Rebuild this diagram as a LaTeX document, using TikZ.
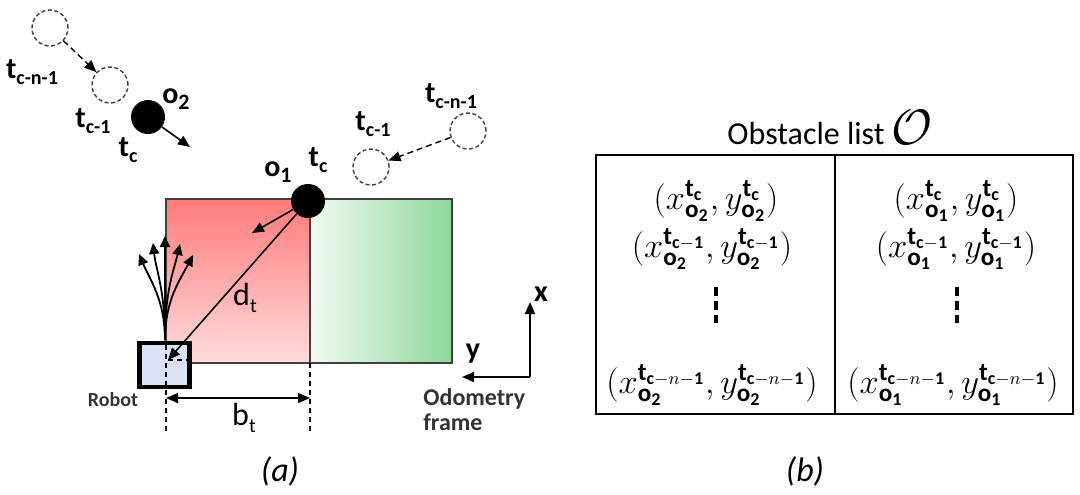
\documentclass[tikz,border=0pt]{standalone}
\usepackage{fontspec}
\setmainfont{Carlito}
\usetikzlibrary{arrows.meta}
\definecolor{redtop}{HTML}{FF7B7B}
\definecolor{redbot}{HTML}{FFDCDC}
\definecolor{grnl}{HTML}{F2FAF3}
\definecolor{grnr}{HTML}{8ED89A}
\definecolor{robfill}{HTML}{DAE3F3}
\definecolor{txtgray}{HTML}{333333}
\newcommand\tlab[1]{\textbf{t}\raisebox{-0.4ex}{\fontsize{10}{10}\selectfont\bfseries #1}}
\newcommand\olab[1]{\textbf{o}\raisebox{-0.45ex}{\fontsize{11}{11}\selectfont\bfseries #1}}
\newcommand\ent[2]{$(x^{#2}_{#1},y^{#2}_{#1})$}
\begin{document}
\begin{tikzpicture}[x=0.5pt,y=-0.5pt,
  tri/.style={-{Triangle[length=6pt,width=5pt]}},
  smalltri/.style={-{Triangle[length=5.5pt,width=5pt]}},
  ghost/.style={circle,draw=black!75,dashed,dash pattern=on 2pt off 1.3pt,line width=0.7pt,minimum size=18pt,inner sep=0pt},
  obst/.style={circle,fill=black,minimum size=17pt,inner sep=0pt},
  lab/.style={font=\fontsize{15}{15}\selectfont, inner sep=0pt},
  entry/.style={font=\fontsize{18}{20}\selectfont, inner sep=0pt},
  captxt/.style={font=\fontsize{17}{17}\selectfont\itshape, inner sep=0pt},
  dim/.style={dashed,dash pattern=on 2.5pt off 2pt,line width=0.6pt}]
\useasboundingbox (0,0) rectangle (1080,494);

% regions
\shade[top color=redtop,bottom color=redbot] (166,199) rectangle (310,363);
\shade[left color=grnl,right color=grnr] (310,199) rectangle (452,363);
\draw[black!75,line width=0.6pt] (166,199) rectangle (310,363);
\draw[black!75,line width=0.6pt] (310,199) rectangle (452,363);

% robot
\node[draw=black,line width=2.2pt,fill=robfill,minimum width=25pt,minimum height=22pt,inner sep=0pt] (robot) at (164.5,365) {};
\coordinate (rc) at (168,360);
\node[font=\fontsize{10}{10}\selectfont\bfseries,text=txtgray,inner sep=0pt] (robotlab) at (113,400) {Robot};

% dashed guides
\coordinate (g1t) at (166,345);
\coordinate (g1b) at (166,432);
\coordinate (g2t) at (310,363);
\coordinate (g2b) at (310,432);
\draw[dim] (g1t) -- (g1b);
\draw[dim] (g2t) -- (g2b);
\draw[dim] (rc) -- ++(20,0);
\coordinate (bl) at (166,398);
\coordinate (br) at (310,398);
\draw[line width=0.7pt,{Triangle[length=6pt,width=5pt]}-{Triangle[length=6pt,width=5pt]}] (bl) -- (br);
\node[font=\fontsize{16}{16}\selectfont,inner sep=0pt] (bt) at (244,418) {b\raisebox{-0.4ex}{\fontsize{10}{10}\selectfont t}};

% trajectory fan
\coordinate (fb) at (165,340);
\coordinate (f1) at (139,254);
\coordinate (f2) at (153,243);
\coordinate (f3) at (165,236);
\coordinate (f4) at (180,244);
\coordinate (f5) at (193,255);
\draw[smalltri,line width=0.9pt] (fb) .. controls (165,300) and (150,280) .. (f1);
\draw[smalltri,line width=0.9pt] (fb) .. controls (165,290) and (156,270) .. (f2);
\draw[smalltri,line width=0.9pt] (fb) -- (f3);
\draw[smalltri,line width=0.9pt] (fb) .. controls (165,290) and (174,270) .. (f4);
\draw[smalltri,line width=0.9pt] (fb) .. controls (165,300) and (180,280) .. (f5);

% obstacle o1
\node[obst] (o1) at (308,201) {};
\coordinate (o1v) at (252,233);
\draw[tri,line width=0.8pt] (o1) -- (o1v);
\draw[tri,line width=0.8pt] (o1) -- (rc);
\node[font=\fontsize{16}{16}\selectfont,inner sep=0pt] (dt) at (245,298) {d\raisebox{-0.4ex}{\fontsize{10}{10}\selectfont t}};
\node[lab] (o1lab) at (278,172) {\olab{1}};
\node[lab] (o1tc) at (318,160) {\tlab{c}};

% o1 history
\node[ghost] (o1a) at (371,167) {};
\node[ghost] (o1b) at (468,131) {};
\draw[tri,dashed,dash pattern=on 3pt off 2pt,line width=0.7pt] (o1b) -- (o1a);
\node[lab] (o1alab) at (373,124) {\tlab{c-1}};
\node[lab] (o1blab) at (451,96) {\tlab{c-n-1}};

% obstacle o2
\node[ghost] (o2b) at (50,28) {};
\node[ghost] (o2a) at (110,85) {};
\node[obst] (o2) at (148,117) {};
\draw[tri,dashed,dash pattern=on 3pt off 2pt,line width=0.7pt] (o2b) -- (o2a);
\coordinate (o2v) at (190,147);
\draw[tri,line width=0.8pt] (o2) -- (o2v);
\node[lab] (o2lab) at (176,99) {\olab{2}};
\node[lab] (o2blab) at (32,72) {\tlab{c-n-1}};
\node[lab] (o2alab) at (93,121) {\tlab{c-1}};
\node[lab] (o2tc) at (128,150) {\tlab{c}};

% odometry frame
\coordinate (oc) at (530,377);
\coordinate (ox) at (530,302);
\coordinate (oy) at (462,377);
\draw[tri,line width=0.8pt] (oc) -- (ox);
\draw[tri,line width=0.8pt] (oc) -- (oy);
\node[font=\fontsize{15}{15}\selectfont\bfseries,inner sep=0pt] (xl) at (541,294) {x};
\node[font=\fontsize{15}{15}\selectfont\bfseries,inner sep=0pt] (yl) at (473,354) {y};
\node[font=\fontsize{12}{12.5}\selectfont\bfseries,text=txtgray,align=left,anchor=north west,inner sep=0pt] (odo) at (423,388) {Odometry\\frame};

% caption (a)
\node[captxt] (capa) at (280,471) {(a)};

% obstacle list
\node[font=\fontsize{16}{16}\selectfont,anchor=west,inner sep=0pt] (title) at (727,128) {Obstacle list {\fontsize{24}{24}\selectfont$\mathcal{O}$}};
\draw[line width=0.7pt] (596,155) rectangle (1073,414);
\coordinate (dvt) at (835,155);
\coordinate (dvb) at (835,414);
\draw[line width=0.7pt] (dvt) -- (dvb);

\node[entry] (e11) at (716,201) {\ent{\mathbf{o}_{\mathbf{2}}}{\mathbf{t}_{\mathbf{c}}}};
\node[entry] (e12) at (712,249) {\ent{\mathbf{o}_{\mathbf{2}}}{\mathbf{t}_{\mathbf{c}-\mathbf{1}}}};
\node[entry] (e13) at (712,385) {\ent{\mathbf{o}_{\mathbf{2}}}{\mathbf{t}_{\mathbf{c}-n-\mathbf{1}}}};
\node[entry] (e21) at (956,201) {\ent{\mathbf{o}_{\mathbf{1}}}{\mathbf{t}_{\mathbf{c}}}};
\node[entry] (e22) at (956,249) {\ent{\mathbf{o}_{\mathbf{1}}}{\mathbf{t}_{\mathbf{c}-\mathbf{1}}}};
\node[entry] (e23) at (953,385) {\ent{\mathbf{o}_{\mathbf{1}}}{\mathbf{t}_{\mathbf{c}-n-\mathbf{1}}}};
\coordinate (d1t) at (716,287);
\coordinate (d1b) at (716,323);
\coordinate (d2t) at (957,287);
\coordinate (d2b) at (957,323);
\draw[line width=1.6pt,dash pattern=on 4.5pt off 2.5pt] (d1t) -- (d1b);
\draw[line width=1.6pt,dash pattern=on 4.5pt off 2.5pt] (d2t) -- (d2b);

% caption (b)
\node[captxt] (capb) at (805,471) {(b)};
\end{tikzpicture}
\end{document}
